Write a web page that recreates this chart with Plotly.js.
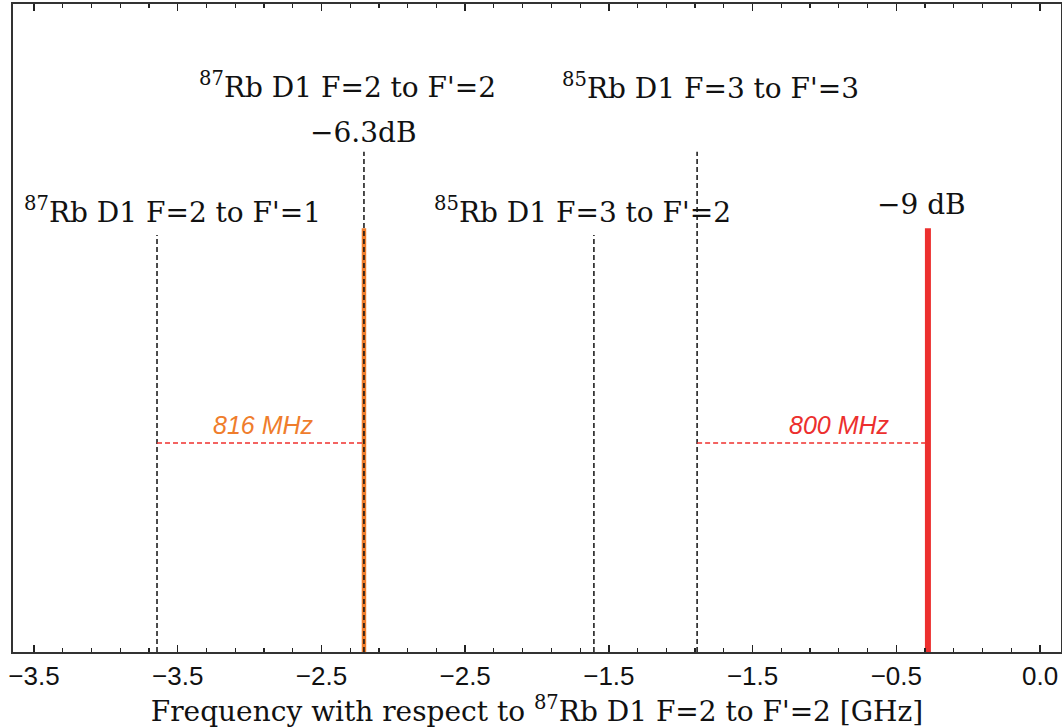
<!DOCTYPE html>
<html>
<head>
<meta charset="utf-8">
<script src="https://cdn.plot.ly/plotly-3.0.1.min.js"></script>
<style>
  html, body { margin: 0; padding: 0; background: #fff; }
  #chart { width: 1062px; height: 728px; }
</style>
</head>
<body>
<div id="chart"></div>
<script>
// Rb D1 hyperfine reference transitions (GHz, relative scale) and marker heights
const transitionNames = [
  "<sup>87</sup>Rb D1 F=2 to F'=1",
  "<sup>87</sup>Rb D1 F=2 to F'=2",
  "<sup>85</sup>Rb D1 F=3 to F'=2",
  "<sup>85</sup>Rb D1 F=3 to F'=3"
];
const transitionFreq = [-3.072, -2.352, -1.552, -1.193];
const transitionTop = [0.6435, 0.772, 0.6435, 0.772];

// Laser / sideband lines
const laserFreq = [-2.352, -0.390];
const laserLevel = [0.654, 0.654];
const laserColors = ["#ef7d2c", "#ec2f2e"];
const laserPower = ["\u22126.3dB", "\u22129 dB"];

// Offset brackets: from transition index to laser index
const offsetFrom = [0, 3];
const offsetTo = [0, 1];
const offsetText = ["816 MHz", "800 MHz"];
const offsetLevel = 0.3225;

// Axis ticks
const tickValues = [-3.5, -3.0, -2.5, -2.0, -1.5, -1.0, -0.5, 0.0];
const tickLabels = ["\u22123.5", "\u22123.5", "\u22122.5", "\u22122.5", "\u22121.5", "\u22121.5", "\u22120.5", "0.0"];

const serif = "DejaVu Serif, Liberation Serif, serif";
const sans = "Liberation Sans, Arial, sans-serif";

const traces = [];

// thick laser lines (drawn first so the dashed transition markers sit on top)
laserFreq.forEach((f, i) => {
  traces.push({
    x: [f, f], y: [0, laserLevel[i]], mode: "lines", type: "scatter",
    line: { color: laserColors[i], width: i === 0 ? 4.5 : 6 },
    hoverinfo: "skip", showlegend: false
  });
});

// dashed transition markers
transitionFreq.forEach((f, i) => {
  traces.push({
    x: [f, f], y: [0, transitionTop[i]], mode: "lines", type: "scatter",
    line: { color: "#111", width: 1.5, dash: "5px,3px" },
    hoverinfo: "skip", showlegend: false
  });
});

// red dashed offset brackets
offsetFrom.forEach((ti, k) => {
  traces.push({
    x: [transitionFreq[ti], laserFreq[offsetTo[k]]], y: [offsetLevel, offsetLevel],
    mode: "lines", type: "scatter",
    line: { color: "#f0302e", width: 1.3, dash: "5px,3px" },
    hoverinfo: "skip", showlegend: false
  });
});

// label placement (paper y) for each transition name
const nameX = [-3.017, -2.408, -1.590, -1.148];
const nameY = [0.682, 0.875, 0.682, 0.872];

const annotations = [];
transitionNames.forEach((t, i) => {
  annotations.push({
    x: nameX[i], y: nameY[i], xref: "x", yref: "paper", text: t, showarrow: false,
    font: { family: serif, size: 28, color: "#111" }, xanchor: "center", yanchor: "middle"
  });
});
const powerX = [laserFreq[0], -0.411];
const powerY = [0.801, 0.690];
laserPower.forEach((t, i) => {
  annotations.push({
    x: powerX[i], y: powerY[i], xref: "x", yref: "paper", text: t, showarrow: false,
    font: { family: serif, size: 28, color: "#111" }, xanchor: "center", yanchor: "middle"
  });
});
const offsetX = [-2.700, -0.696];
offsetText.forEach((t, i) => {
  annotations.push({
    x: offsetX[i], y: 0.350, xref: "x", yref: "paper", text: "<i>" + t + "</i>", showarrow: false,
    font: { family: sans, size: 25, color: laserColors[i] }, xanchor: "center", yanchor: "middle"
  });
});

const layout = {
  width: 1062, height: 728,
  margin: { l: 13, r: 1, t: 4, b: 76 },
  paper_bgcolor: "#fff", plot_bgcolor: "#fff",
  showlegend: false,
  xaxis: {
    range: [-3.573, 0.073],
    tickmode: "array", tickvals: tickValues, ticktext: tickLabels,
    ticks: "inside", ticklen: 7, tickwidth: 1.5, tickcolor: "#222",
    minor: { dtick: 0.1, ticks: "inside", ticklen: 4, tickwidth: 1.2, tickcolor: "#222", showgrid: false },
    showline: true, linecolor: "#333", linewidth: 2, mirror: "ticks",
    showgrid: false, zeroline: false,
    tickfont: { family: sans, size: 26, color: "#111" },
    title: {
      text: "Frequency with respect to <sup>87</sup>Rb D1 F=2 to F'=2 [GHz]",
      font: { family: serif, size: 28, color: "#111" }, standoff: 4
    }
  },
  yaxis: {
    range: [0, 1], showticklabels: false, ticks: "",
    showline: true, linecolor: "#333", linewidth: 2, mirror: true,
    showgrid: false, zeroline: false, fixedrange: true
  },
  annotations: annotations
};

Plotly.newPlot("chart", traces, layout, { displayModeBar: false, staticPlot: true });
</script>
</body>
</html>
